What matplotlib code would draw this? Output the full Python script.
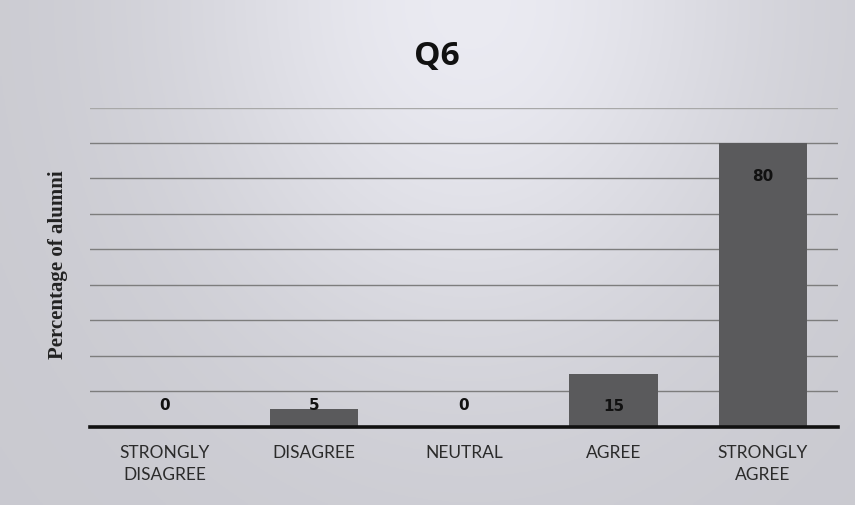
import numpy as np
import matplotlib.pyplot as plt

# survey answers for Q6
categories = ['STRONGLY\nDISAGREE', 'DISAGREE', 'NEUTRAL', 'AGREE', 'STRONGLY\nAGREE']
values = [0, 5, 0, 15, 80]

fig = plt.figure(figsize=(8.55, 5.05), dpi=100)

# greyish scanned-paper background, lighter toward the top middle
bg = fig.add_axes([0, 0, 1, 1], zorder=-10)
yy, xx = np.mgrid[0:1:200j, 0:1:300j]
shade = 0.79 + 0.13 * np.exp(-((xx - 0.55) ** 2) / 0.12 - (yy ** 2) / 0.5)
rgb = np.dstack([shade, shade, shade * 1.02 + 0.01]).clip(0, 1)
bg.imshow(rgb, aspect='auto', extent=[0, 1, 0, 1])
bg.axis('off')

ax = fig.add_axes([0.105, 0.155, 0.875, 0.632])
ax.patch.set_alpha(0)

x = np.arange(len(categories))
bars = ax.bar(x, values, width=0.59, color='#5a5a5c', zorder=3)

ax.set_xlim(-0.5, len(categories) - 0.5)
ax.set_ylim(0, 90)
ax.set_yticks(np.arange(0, 91, 10))
ax.yaxis.grid(True, color='#7d7d7d', linewidth=1.0, zorder=0)
ax.get_ygridlines()[-1].set_color('#a8a8a8')
ax.tick_params(axis='y', left=False, labelleft=False)
ax.tick_params(axis='x', bottom=False, pad=10)
ax.set_xticks(x)
ax.set_xticklabels(categories, fontsize=12.5, family='Lato', color='#2b2b2b', linespacing=1.4)

for s in ['top', 'left', 'right']:
    ax.spines[s].set_visible(False)
ax.spines['bottom'].set_linewidth(2.6)
ax.spines['bottom'].set_color('#111111')
ax.spines['bottom'].set_zorder(4)

# data labels: inside the bar top when there is room, else just above the axis
for xi, v in zip(x, values):
    if v >= 10:
        ax.annotate(str(v), (xi, v), xytext=(0, -24), textcoords='offset points',
                    ha='center', va='center', fontsize=11, fontweight='bold', color='#111111', zorder=5)
    else:
        ax.annotate(str(v), (xi, 0), xytext=(0, 15), textcoords='offset points',
                    ha='center', va='center', fontsize=11, fontweight='bold', color='#111111', zorder=5)

fig.text(0.511, 0.888, 'Q6', ha='center', va='center', fontsize=24, fontweight='bold',
         family='Open Sans', color='#111111')
fig.text(0.068, 0.475, 'Percentage of alumni', rotation=90, ha='center', va='center',
         fontsize=15, fontweight='bold', family='Liberation Serif', color='#222222')

fig.savefig('out.png', dpi=100)
